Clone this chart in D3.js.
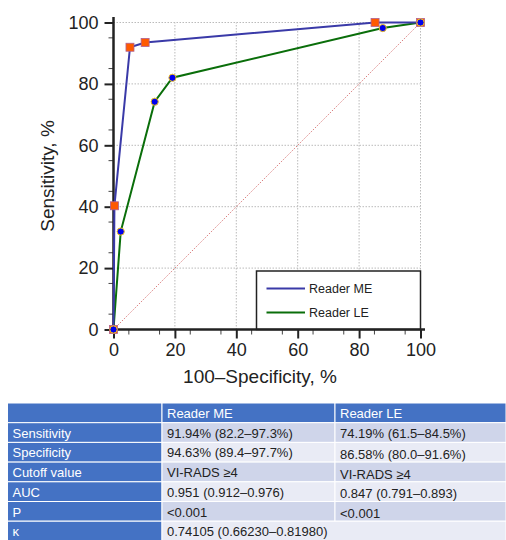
<!DOCTYPE html>
<html>
<head>
<meta charset="utf-8">
<script src="https://cdn.jsdelivr.net/npm/d3@7"></script>
<style>
  body { margin: 0; background: #fff; }
  svg text { font-family: "Liberation Sans", Arial, sans-serif; }
</style>
</head>
<body>
<svg id="chart" width="506" height="540"></svg>
<script>
// ROC points, [100-specificity, sensitivity]
const readerME = [[0, 0], [0.3, 40.3], [5.37, 91.94], [10.3, 93.5], [85.2, 100], [100, 100]];
const readerLE = [[0, 0], [2.35, 31.9], [13.42, 74.19], [19.2, 82.0], [87.7, 98.2], [100, 100]];
const majorTicks = [0, 20, 40, 60, 80, 100];
const legendLabels = ["Reader ME", "Reader LE"];

const tableHeader = ["", "Reader ME", "Reader LE"];
const rowLabels = ["Sensitivity", "Specificity", "Cutoff value", "AUC", "P", "\u03ba"];
const colME = ["91.94% (82.2\u201397.3%)", "94.63% (89.4\u201397.7%)", "VI-RADS \u22654", "0.951 (0.912\u20130.976)", "<0.001", "0.74105 (0.66230\u20130.81980)"];
const colLE = ["74.19% (61.5\u201384.5%)", "86.58% (80.0\u201391.6%)", "VI-RADS \u22654", "0.847 (0.791\u20130.893)", "<0.001", null];

const svg = d3.select("#chart");

let x = d3.scaleLinear().domain([0, 100]).range([113.5, 420.5]);
let y = d3.scaleLinear().domain([0, 100]).range([329.5, 22.5]);

// grid
const grid = svg.append("g");
grid.selectAll("line.gx").data(majorTicks.slice(1)).enter().append("line")
    .attr("x1", d => x(d)).attr("x2", d => x(d))
    .attr("y1", y(0)).attr("y2", y(100))
    .attr("stroke", "#bbb").attr("stroke-width", 1).attr("stroke-dasharray", "1.5,1.5");
grid.selectAll("line.gy").data(majorTicks.slice(1)).enter().append("line")
    .attr("y1", d => y(d)).attr("y2", d => y(d))
    .attr("x1", x(0)).attr("x2", x(100))
    .attr("stroke", "#bbb").attr("stroke-width", 1).attr("stroke-dasharray", "1.5,1.5");

// chance diagonal
svg.append("line")
    .attr("x1", x(0)).attr("y1", y(0)).attr("x2", x(100)).attr("y2", y(100))
    .attr("stroke", "#d06060").attr("stroke-width", 0.8).attr("stroke-dasharray", "1.5,1.5");

// legend box (drawn under axes)
const lg = svg.append("g");
lg.append("rect").attr("x", 256.5).attr("y", 271).attr("width", 164).attr("height", 58.5)
    .attr("fill", "#fff").attr("stroke", "#222").attr("stroke-width", 1.5);
const legendColors = ["#3a3aa8", "#0a6e0a"];
legendLabels.forEach(function(lab, i) {
    let ly = 288.5 + i * 24;
    lg.append("line").attr("x1", 266.5).attr("x2", 305).attr("y1", ly).attr("y2", ly)
      .attr("stroke", legendColors[i]).attr("stroke-width", 2);
    lg.append("text").attr("x", 309).attr("y", ly + 4.5).text(lab)
      .attr("font-size", "12.5px").attr("fill", "#222");
});

// axes
const xAxis = svg.append("g").attr("transform", "translate(0," + y(0) + ")")
    .call(d3.axisBottom(x).tickValues(majorTicks).tickSize(9).tickPadding(5).tickFormat(d3.format("d")));
const yAxis = svg.append("g").attr("transform", "translate(" + x(0) + ",0)")
    .call(d3.axisLeft(y).tickValues(majorTicks).tickSize(9).tickPadding(6).tickFormat(d3.format("d")));
[xAxis, yAxis].forEach(function(a) {
    a.select(".domain").remove();
    a.selectAll("line").attr("stroke", "#222").attr("stroke-width", 2);
    a.selectAll("text").attr("font-size", "18px").attr("fill", "#222")
      .attr("font-family", "'Liberation Sans', Arial, sans-serif");
});
// minor ticks every 5
const minor = d3.range(5, 100, 10);
svg.append("g").selectAll("line").data(minor).enter().append("line")
    .attr("x1", d => x(d)).attr("x2", d => x(d)).attr("y1", y(0)).attr("y2", y(0) + 5)
    .attr("stroke", "#444").attr("stroke-width", 1);
svg.append("g").selectAll("line").data(minor).enter().append("line")
    .attr("y1", d => y(d)).attr("y2", d => y(d)).attr("x1", x(0)).attr("x2", x(0) - 5)
    .attr("stroke", "#444").attr("stroke-width", 1);
// axis lines
svg.append("line").attr("x1", x(0)).attr("x2", x(0)).attr("y1", 17).attr("y2", y(0) + 1)
    .attr("stroke", "#222").attr("stroke-width", 2.5);
svg.append("line").attr("x1", x(0) - 1).attr("x2", 425).attr("y1", y(0)).attr("y2", y(0))
    .attr("stroke", "#222").attr("stroke-width", 2.5);

// axis titles
svg.append("text").attr("x", 260).attr("y", 383).attr("text-anchor", "middle")
    .attr("font-size", "19px").attr("fill", "#222").text("100\u2013Specificity, %");
svg.append("text").attr("transform", "translate(54,176) rotate(-90)").attr("text-anchor", "middle")
    .attr("font-size", "19px").attr("fill", "#222").text("Sensitivity, %");

// curves
const line = d3.line().x(d => x(d[0])).y(d => y(d[1]));
svg.append("path").datum(readerLE).attr("d", line).attr("fill", "none")
    .attr("stroke", "#0a6e0a").attr("stroke-width", 2);
svg.append("path").datum(readerME).attr("d", line).attr("fill", "none")
    .attr("stroke", "#3a3aa8").attr("stroke-width", 2);

// markers
svg.append("g").selectAll("rect").data(readerME).enter().append("rect")
    .attr("x", d => x(d[0]) - 4).attr("y", d => y(d[1]) - 4)
    .attr("width", 8).attr("height", 8)
    .attr("fill", "#ff5a00").attr("stroke", "#b06090").attr("stroke-width", 0.8);
svg.append("g").selectAll("circle").data(readerLE).enter().append("circle")
    .attr("cx", d => x(d[0])).attr("cy", d => y(d[1])).attr("r", 3.6)
    .attr("fill", "#0000ee").attr("stroke", "#f0c020").attr("stroke-width", 1);

// table
const colX = [7.5, 162, 335, 506];
const rowY0 = 403, rowH = 19.7;
const dark = "#4472c4", light1 = "#cfd5ea", light2 = "#e9ebf5";
const tbl = svg.append("g");
function cell(x0, x1, r, fill, txt, color, dy) {
    tbl.append("rect").attr("x", x0).attr("y", rowY0 + r * rowH)
       .attr("width", x1 - x0).attr("height", rowH)
       .attr("fill", fill).attr("stroke", "#fff").attr("stroke-width", 1);
    if (txt) tbl.append("text").attr("x", x0 + 5).attr("y", rowY0 + r * rowH + 15 + (dy || 0))
       .attr("font-size", "13px").attr("fill", color).text(txt);
}
tableHeader.forEach(function(h, c) { cell(colX[c], colX[c + 1], 0, dark, h, "#fff"); });
rowLabels.forEach(function(lab, i) {
    let r = i + 1, bg = i % 2 === 0 ? light1 : light2;
    cell(colX[0], colX[1], r, dark, lab, "#fff");
    if (colLE[i] === null) {
        cell(colX[1], colX[3], r, bg, colME[i], "#222");
    } else {
        cell(colX[1], colX[2], r, bg, colME[i], "#222");
        cell(colX[2], colX[3], r, bg, colLE[i], "#222", i > 0 ? 1.5 : 0);
    }
});
</script>
</body>
</html>
